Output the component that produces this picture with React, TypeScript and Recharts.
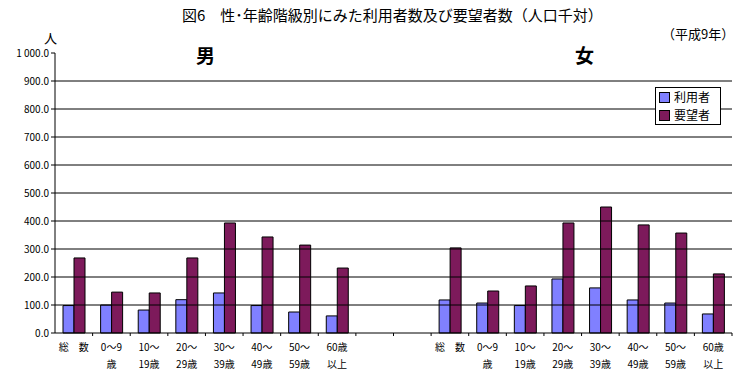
import React from 'react';
import { BarChart, Bar, XAxis, YAxis, ReferenceLine, Legend } from 'recharts';

// 年齢階級ラベル (2段)
const ageTop = ['総　数', '0～9', '10～', '20～', '30～', '40～', '50～', '60歳'];
const ageBottom = ['', '歳', '19歳', '29歳', '39歳', '49歳', '59歳', '以上'];

// 人口千対
const maleUsers = [98, 100, 82, 119, 143, 98, 75, 61];
const maleWanted = [268, 146, 143, 268, 393, 343, 314, 232];
const femaleUsers = [118, 107, 98, 193, 161, 118, 107, 68];
const femaleWanted = [304, 150, 168, 393, 450, 386, 357, 211];

const yTicks = [0, 100, 200, 300, 400, 500, 600, 700, 800, 900, 1000];
const gridValues = yTicks.filter((v) => v > 0 && v < 1000);

const rows = [
  ...ageTop.map((t, i) => ({ key: 'm' + i, top: t, bottom: ageBottom[i], users: maleUsers[i], wanted: maleWanted[i] })),
  { key: 'gap1', top: '', bottom: '' },
  { key: 'gap2', top: '', bottom: '' },
  ...ageTop.map((t, i) => ({ key: 'f' + i, top: t, bottom: ageBottom[i], users: femaleUsers[i], wanted: femaleWanted[i] })),
];

const FONT = '"Noto Sans CJK JP", "Noto Sans", sans-serif';
const BLUE = '#8080ff';
const MAROON = '#7d1a5b';
const PLOT_W = 677;
const BAND = PLOT_W / rows.length;

function fmtY(v: number) {
  const s = v.toFixed(1);
  return v >= 1000 ? s.replace(/^(\d)(\d{3})/, '$1\u00a0$2') : s;
}

function AgeTick(props: any) {
  const { x, y, payload } = props;
  const row = rows.find((r) => r.key === payload.value);
  return (
    <g>
      <line x1={x + BAND / 2} x2={x + BAND / 2} y1={y} y2={y + 3} stroke="#000" />
      <text x={x} y={y + 18} textAnchor="middle" fontSize={10} fill="#000" fontFamily={FONT}>
        {row?.top}
      </text>
      <text x={x} y={y + 35} textAnchor="middle" fontSize={10} fill="#000" fontFamily={FONT}>
        {row?.bottom}
      </text>
    </g>
  );
}

function LegendBox() {
  const items = [
    { name: '利用者', color: BLUE },
    { name: '要望者', color: MAROON },
  ];
  return (
    <div style={{ border: '1px solid #000', background: '#fff', padding: '0 3px', width: 58 }}>
      {items.map((it) => (
        <div
          key={it.name}
          style={{ display: 'flex', alignItems: 'center', height: 18, lineHeight: '18px', fontSize: 12, fontFamily: FONT }}
        >
          <span style={{ width: 9, height: 9, background: it.color, border: '1px solid #000', marginRight: 4 }} />
          {it.name}
        </div>
      ))}
    </div>
  );
}

const abs = (left: number, top: number, size: number, extra: React.CSSProperties = {}): React.CSSProperties => ({
  position: 'absolute',
  left,
  top,
  fontSize: size,
  fontFamily: FONT,
  lineHeight: 1,
  whiteSpace: 'nowrap',
  zIndex: 1,
  ...extra,
});

export default function App() {
  return (
    <div style={{ position: 'absolute', left: 0, top: 0, width: 743, height: 376, background: '#fff' }}>
      <div style={abs(182, 7, 15)}>図6　性･年齢階級別にみた利用者数及び要望者数（人口千対）</div>
      <div style={abs(662, 27, 13)}>（平成9年）</div>
      <div style={abs(44, 31, 13)}>人</div>
      <div style={abs(196, 45, 19, { fontWeight: 700 })}>男</div>
      <div style={abs(575, 45, 19, { fontWeight: 700 })}>女</div>
      <BarChart
        width={743}
        height={376}
        data={rows}
        margin={{ top: 53, right: 11, bottom: 0, left: 8 }}
        barSize={11}
        barGap={0}
        style={{ fontFamily: FONT }}
      >
        <YAxis
          width={47}
          domain={[0, 1000]}
          ticks={yTicks}
          interval={0}
          tickFormatter={fmtY}
          tick={{ fontSize: 10, fill: '#000' }}
          tickSize={4}
          tickMargin={2}
          tickLine={{ stroke: '#000' }}
          axisLine={{ stroke: '#000' }}
        />
        <XAxis
          dataKey="key"
          height={43}
          interval={0}
          tick={<AgeTick />}
          tickLine={false}
          tickSize={0}
          tickMargin={0}
          axisLine={{ stroke: '#000' }}
        />
        {gridValues.map((v) => (
          <ReferenceLine key={v} y={v} stroke="#000" strokeWidth={1} />
        ))}
        <Bar dataKey="users" name="利用者" fill={BLUE} stroke="#000" strokeWidth={1} isAnimationActive={false} />
        <Bar dataKey="wanted" name="要望者" fill={MAROON} stroke="#000" strokeWidth={1} isAnimationActive={false} />
        <Legend
          layout="vertical"
          align="center"
          verticalAlign="middle"
          content={<LegendBox />}
          wrapperStyle={{ top: 87, left: 655, width: 66, height: 'auto' }}
        />
      </BarChart>
    </div>
  );
}
